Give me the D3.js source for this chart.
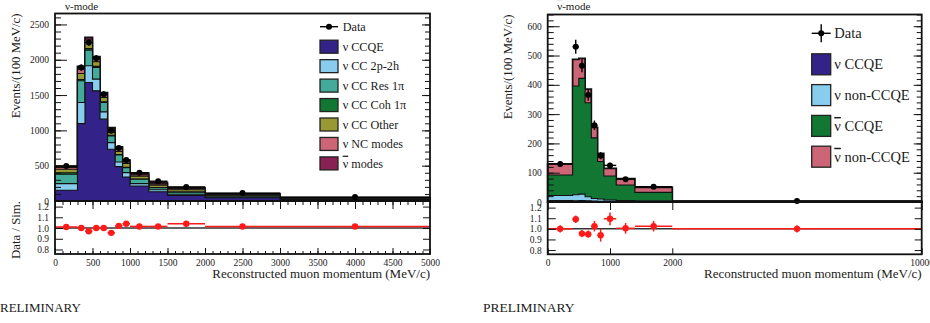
<!DOCTYPE html>
<html>
<head>
<meta charset="utf-8">
<script src="https://cdn.jsdelivr.net/npm/d3@7"></script>
<style>
  body { margin: 0; background: #fff; }
  svg { display: block; }
  svg text { font-family: "Liberation Serif", "DejaVu Serif", serif; }
</style>
</head>
<body>
<script>

// ---------- nu-mode (left panel) ----------
var nuEdges  = [0, 300, 400, 500, 600, 700, 800, 900, 1000, 1250, 1500, 2000, 3000, 5000];
var nuCCQE   = [152, 1096, 1678, 1560, 1159, 733, 487, 340, 213, 132, 80, 45, 20];
var nu2p2h   = [94, 298, 237, 166, 103, 94, 66, 62, 33, 28, 15, 10, 5];
var nuRes    = [132, 308, 222, 165, 132, 95, 99, 71, 61, 29, 30, 15, 7];
var nuCoh    = [22, 18, 23, 15, 12, 8, 6, 5, 4, 3, 3, 1, 1];
var nuOther  = [49, 86, 85, 66, 59, 40, 42, 52, 39, 33, 32, 14, 7];
var nuNC     = [25, 60, 35, 38, 40, 35, 35, 22, 20, 15, 15, 8, 3];
var nuBarBkg = [13, 39, 36, 33, 31, 35, 31, 25, 23, 20, 14, 11, 4];
var nuData    = [497, 1890, 2245, 2020, 1510, 993, 750, 580, 400, 280, 200, 112, 55];
var nuDataErr = [13, 44, 47, 45, 39, 32, 27, 24, 13, 11, 6, 3, 2];
var nuRatio    = [1.01, 1.00, 0.97, 1.00, 1.00, 0.955, 1.02, 1.04, 1.015, 1.015, 1.04, 1.015, 1.015];
var nuRatioErr = [0.012, 0.012, 0.01, 0.01, 0.012, 0.014, 0.018, 0.02, 0.016, 0.022, 0.016, 0.016, 0.016];
var nuLabels = ["ν CCQE", "ν CC 2p-2h", "ν CC Res 1π", "ν CC Coh 1π", "ν CC Other", "ν NC modes", "ν\u0304 modes"];
var nuXTicks = [0, 500, 1000, 1500, 2000, 2500, 3000, 3500, 4000, 4500, 5000];
var nuYTicks = [0, 500, 1000, 1500, 2000, 2500];

// ---------- anti-nu-mode (right panel) ----------
var nbEdges   = [0, 400, 500, 600, 700, 800, 900, 1100, 1400, 2000, 10000];
var nbNuCCQE  = [5, 4, 5, 4, 3, 2, 2, 1.5, 1, 0.3];
var nbNuOther = [17, 21, 22, 14, 9, 8, 5, 3.5, 3, 0.5];
var nbBarCCQE = [70, 371, 395, 321, 207, 128, 82, 53, 29, 1.2];
var nbBarOther= [38, 91, 68, 46, 36, 28, 26, 22, 17, 1];
var nbData    = [130, 530, 465, 365, 262, 158, 125, 78, 52, 3];
var nbDataErr = [10, 24, 22, 19, 16, 12, 9, 6, 4, 0.3];
var nbRatio    = [1.00, 1.09, 0.955, 0.95, 1.025, 0.94, 1.095, 1.005, 1.025, 1.00];
var nbRatioErr = [0.035, 0.035, 0.035, 0.035, 0.05, 0.06, 0.06, 0.05, 0.05, 0.035];
var nbLabels = ["ν CCQE", "ν non-CCQE", "ν\u0304 CCQE", "ν\u0304 non-CCQE"];
var nbXTicks = [0, 1000, 2000, 10000];
var nbYTicks = [0, 100, 200, 300, 400, 500, 600];

var ratioTicks = [0.8, 0.9, 1.0, 1.1, 1.2];

// colours (Tol muted palette, as in the plot)
var nuColors = ["#332288", "#88ccee", "#44aa99", "#117733", "#999933", "#cc6677", "#882255"];
var nbColors = ["#332288", "#88ccee", "#117733", "#cc6677"];

var svg = d3.select("body").append("svg")
    .attr("width", 930)
    .attr("height", 323)
    .attr("font-family", "Liberation Serif");

// write a label, putting a bar over a leading "nu-bar"
function barText(sel, str) {
  if (str.indexOf("ν\u0304") === 0) {
    sel.append("tspan").style("text-decoration", "overline").text("ν");
    sel.append("tspan").text(str.slice(2));
  } else {
    sel.text(str);
  }
}

function stepPts(edges, vals) {
  var pts = vals.map(function(v, i) { return [edges[i], v]; });
  pts.push([edges[edges.length - 1], vals[vals.length - 1]]);
  return pts;
}

function drawPanel(p) {
  var g = svg.append("g");
  var x = p.x, y = p.y, r = p.r;
  var x0 = x.range()[0], x1 = x.range()[x.range().length - 1];
  var yTop = y.range()[1], yBot = y.range()[0], rBot = r.range()[0];

  // cumulative stack
  var run = p.layers[0].map(function() { return 0; });
  var cums = p.layers.map(function(l) {
    run = run.map(function(v, i) { return v + l[i]; });
    return run.slice();
  });

  var area = d3.area().curve(d3.curveStepAfter)
      .x(function(d) { return x(d[0]); })
      .y0(y(0))
      .y1(function(d) { return y(d[1]); });

  // THStack style: draw the sum first, then each lower sum over it
  for (var k = cums.length - 1; k >= 0; k--) {
    g.append("path")
        .datum(stepPts(p.edges, cums[k]))
        .attr("d", area)
        .attr("fill", p.colors[k])
        .attr("stroke", "#111")
        .attr("stroke-width", k == cums.length - 1 ? 1.8 : 1.1);
  }

  // data points
  var mids = p.edges.slice(0, -1).map(function(e, i) { return (e + p.edges[i + 1]) / 2; });
  var dg = g.append("g").attr("stroke", "#000").attr("stroke-width", 1.4);
  p.data.forEach(function(v, i) {
    dg.append("line")
        .attr("x1", x(p.edges[i])).attr("x2", x(p.edges[i + 1]))
        .attr("y1", y(v)).attr("y2", y(v));
    dg.append("line")
        .attr("x1", x(mids[i])).attr("x2", x(mids[i]))
        .attr("y1", y(v - p.dataErr[i])).attr("y2", y(v + p.dataErr[i]));
    dg.append("circle")
        .attr("cx", x(mids[i])).attr("cy", y(v)).attr("r", 3)
        .attr("fill", "#000").attr("stroke", "none");
  });

  // ratio panel
  g.append("line")
      .attr("x1", x0).attr("x2", x1)
      .attr("y1", r(1)).attr("y2", r(1))
      .attr("stroke", "#333").attr("stroke-width", 1.5);
  var rg = g.append("g").attr("stroke", "#ff1a1a").attr("stroke-width", 1.5);
  p.ratio.forEach(function(v, i) {
    rg.append("line")
        .attr("x1", x(p.edges[i])).attr("x2", x(p.edges[i + 1]))
        .attr("y1", r(v)).attr("y2", r(v));
    rg.append("line")
        .attr("x1", x(mids[i])).attr("x2", x(mids[i]))
        .attr("y1", r(v - p.ratioErr[i])).attr("y2", r(v + p.ratioErr[i]));
    rg.append("circle")
        .attr("cx", x(mids[i])).attr("cy", r(v)).attr("r", 3.2)
        .attr("fill", "#ff1a1a").attr("stroke", "none");
  });

  // axes: ROOT-like inward ticks
  function tidy(sel, size) {
    sel.select(".domain").remove();
    sel.attr("font-family", "Liberation Serif").attr("font-size", size || 9.5);
    sel.selectAll(".tick line").attr("stroke", "#111").attr("stroke-width", 1);
    sel.selectAll(".tick text").attr("fill", "#1a1a1a");
  }
  g.append("g").attr("transform", "translate(" + x0 + ",0)")
      .call(d3.axisLeft(y).tickValues(p.yTicks).tickSize(-12).tickPadding(6).tickFormat(d3.format("d")))
      .call(tidy);
  g.append("g").attr("transform", "translate(" + x0 + ",0)")
      .call(d3.axisLeft(y).tickValues(p.yMinor).tickSize(-6).tickFormat(""))
      .call(tidy);
  g.append("g").attr("transform", "translate(" + x1 + ",0)")
      .call(d3.axisRight(y).tickValues(p.yTicks).tickSize(-8).tickFormat(""))
      .call(tidy);
  g.append("g").attr("transform", "translate(" + x1 + ",0)")
      .call(d3.axisRight(y).tickValues(p.yMinor).tickSize(-5).tickFormat(""))
      .call(tidy);

  g.append("g").attr("transform", "translate(" + x0 + ",0)")
      .call(d3.axisLeft(r).tickValues(ratioTicks).tickSize(-8).tickPadding(6).tickFormat(d3.format(".1f")))
      .call(tidy);
  g.append("g").attr("transform", "translate(" + x1 + ",0)")
      .call(d3.axisRight(r).tickValues(ratioTicks).tickSize(-7).tickFormat(""))
      .call(tidy);

  // x ticks: upper bottom (up), ratio top (down), ratio bottom (up, labelled)
  g.append("g").attr("transform", "translate(0," + yBot + ")")
      .call(d3.axisTop(x).tickValues(p.xMinor).tickSize(-4).tickFormat(""))
      .call(tidy);
  g.append("g").attr("transform", "translate(0," + yBot + ")")
      .call(d3.axisBottom(x).tickValues(p.xTicks).tickSize(8).tickFormat(""))
      .call(tidy);
  g.append("g").attr("transform", "translate(0," + rBot + ")")
      .call(d3.axisBottom(x).tickValues(p.xTicks).tickSize(-6).tickPadding(5).tickFormat(d3.format("d")))
      .call(tidy);
  g.append("g").attr("transform", "translate(0," + rBot + ")")
      .call(d3.axisBottom(x).tickValues(p.xMinor).tickSize(-3).tickFormat(""))
      .call(tidy);

  // frames
  g.append("rect")
      .attr("x", x0).attr("y", yTop).attr("width", x1 - x0).attr("height", yBot - yTop)
      .attr("fill", "none").attr("stroke", "#111").attr("stroke-width", 1.8);
  g.append("rect")
      .attr("x", x0).attr("y", yBot).attr("width", x1 - x0).attr("height", rBot - yBot)
      .attr("fill", "none").attr("stroke", "#111").attr("stroke-width", 1.8);

  // titles
  barText(g.append("text")
      .attr("x", x0 + p.titleDx).attr("y", 10)
      .attr("font-size", 11).attr("fill", "#1a1a1a"), p.title);

  g.append("text")
      .attr("transform", "translate(" + (x0 - 35.5) + "," + yTop + ") rotate(-90)")
      .attr("text-anchor", "end")
      .attr("font-size", 12.8).attr("fill", "#1a1a1a")
      .text("Events/(100 MeV/c)");
  if (p.ratioTitle) {
    g.append("text")
        .attr("transform", "translate(" + (x0 - 35.5) + "," + yBot + ") rotate(-90)")
        .attr("text-anchor", "end")
        .attr("font-size", 12.8).attr("fill", "#1a1a1a")
        .text("Data / Sim.");
  }
  g.append("text")
      .attr("x", x1).attr("y", 278)
      .attr("text-anchor", "end")
      .attr("font-size", 13).attr("fill", "#1a1a1a")
      .text("Reconstructed muon momentum (MeV/c)");
  g.append("text")
      .attr("x", p.prelimX).attr("y", 311.5)
      .attr("font-size", p.prelimSize).attr("fill", "#1a1a1a")
      .text(p.prelim);

  // legend
  var L = p.legend;
  var lg = g.append("g").attr("font-size", L.font).attr("fill", "#1a1a1a");
  lg.append("line")
      .attr("x1", L.x).attr("x2", L.x + L.w)
      .attr("y1", L.dataY).attr("y2", L.dataY)
      .attr("stroke", "#000").attr("stroke-width", 1.4);
  lg.append("line")
      .attr("x1", L.x + L.w / 2).attr("x2", L.x + L.w / 2)
      .attr("y1", L.dataY - L.errH).attr("y2", L.dataY + L.errH)
      .attr("stroke", "#000").attr("stroke-width", 1.4);
  lg.append("circle")
      .attr("cx", L.x + L.w / 2).attr("cy", L.dataY).attr("r", 3).attr("fill", "#000");
  lg.append("text")
      .attr("x", L.tx).attr("y", L.dataY).attr("dy", "0.35em")
      .text("Data");
  p.labels.forEach(function(lab, i) {
    var cy = L.y0 + i * L.dy;
    lg.append("rect")
        .attr("x", L.x).attr("y", cy - L.h / 2)
        .attr("width", L.w).attr("height", L.h)
        .attr("fill", p.colors[i]).attr("stroke", "#222").attr("stroke-width", 1.3);
    barText(lg.append("text")
        .attr("x", L.tx).attr("y", cy).attr("dy", "0.35em"), lab);
  });
}

// minor tick lists
function minors(lo, hi, step) { return d3.range(lo, hi + step / 2, step); }

drawPanel({
  x: d3.scaleLinear().domain([0, 5000]).range([55, 430]),
  y: d3.scaleLinear().domain([0, 2655]).range([201, 13.5]),
  r: d3.scaleLinear().domain([0.758, 1.252]).range([254, 201]),
  edges: nuEdges,
  layers: [nuCCQE, nu2p2h, nuRes, nuCoh, nuOther, nuNC, nuBarBkg],
  colors: nuColors,
  labels: nuLabels,
  data: nuData, dataErr: nuDataErr,
  ratio: nuRatio, ratioErr: nuRatioErr,
  xTicks: nuXTicks, xMinor: minors(0, 5000, 100),
  yTicks: nuYTicks, yMinor: minors(0, 2600, 100),
  title: "ν-mode", titleDx: 10,
  ratioTitle: true,
  prelim: "RELIMINARY", prelimX: 0, prelimSize: 13,
  legend: { x: 320, w: 18, h: 13, tx: 342.7, dataY: 26.7, errH: 0, y0: 46.7, dy: 19.45, font: 12.2 }
});

drawPanel({
  x: d3.scaleLinear().domain([0, 2000, 10000]).range([547.7, 672.3, 921.7]),
  y: d3.scaleLinear().domain([0, 640]).range([202, 14.5]),
  r: d3.scaleLinear().domain([0.76, 1.253]).range([254.3, 202]),
  edges: nbEdges,
  layers: [nbNuCCQE, nbNuOther, nbBarCCQE, nbBarOther],
  colors: nbColors,
  labels: nbLabels,
  data: nbData, dataErr: nbDataErr,
  ratio: nbRatio, ratioErr: nbRatioErr,
  xTicks: nbXTicks, xMinor: [],
  yTicks: nbYTicks, yMinor: minors(0, 640, 20),
  title: "ν\u0304-mode", titleDx: 9.5,
  ratioTitle: false,
  prelim: "PRELIMINARY", prelimX: 483, prelimSize: 13.5,
  legend: { x: 811.7, w: 19, h: 21, tx: 834.3, dataY: 33.3, errH: 9, y0: 64.3, dy: 30.8, font: 14.5 }
});

</script>
</body>
</html>
